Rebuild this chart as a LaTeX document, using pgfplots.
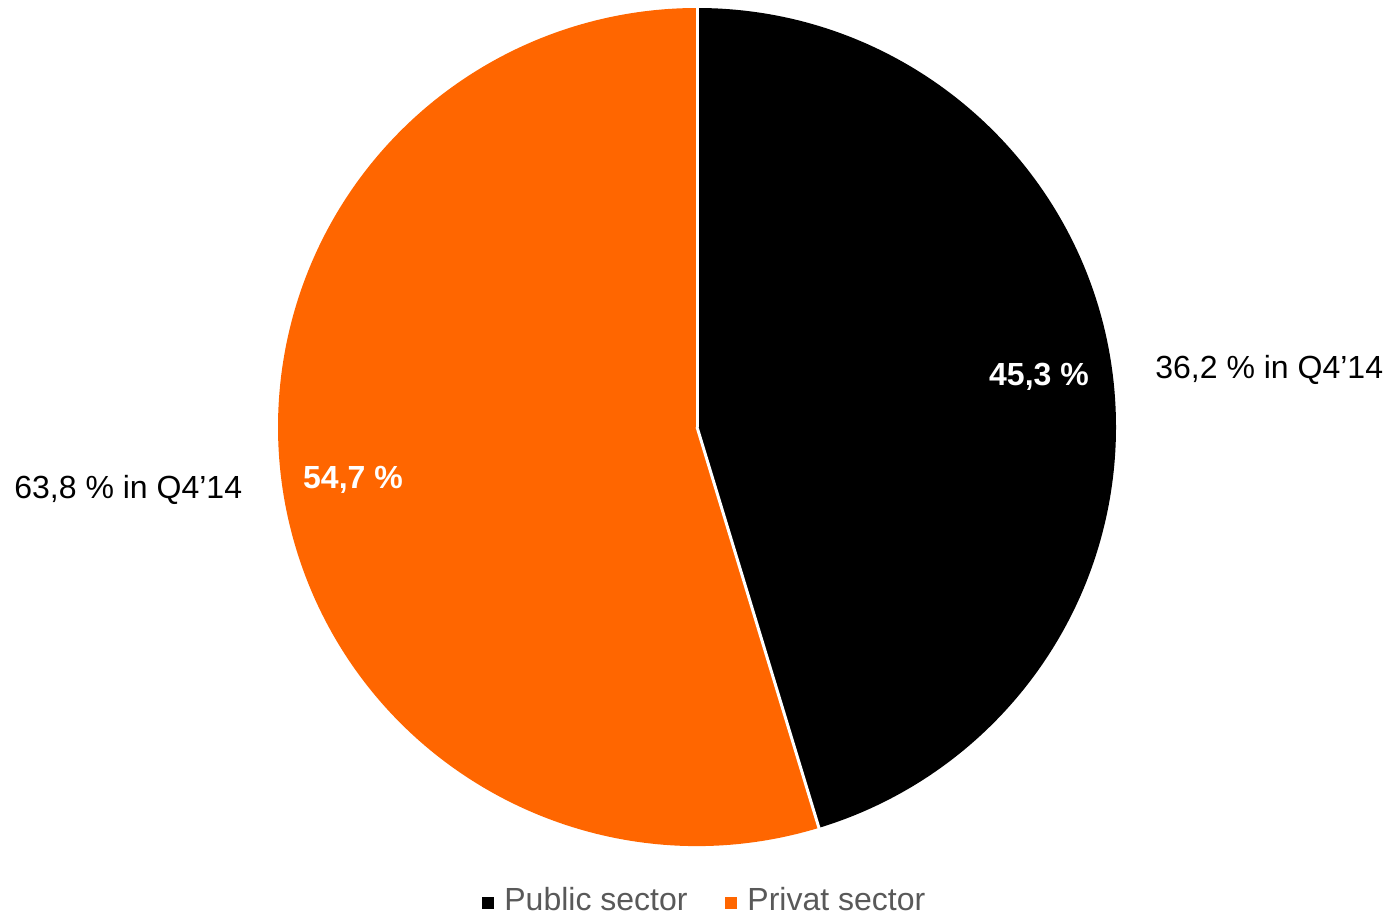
\documentclass[border=0pt]{standalone}
\usepackage{pgfplots}
\pgfplotsset{compat=1.18}
\usepackage{pgfplotstable}
\usepackage{fontspec}
\setmainfont{Liberation Sans}
\definecolor{porange}{HTML}{FF6600}
\definecolor{lgray}{HTML}{595959}
\pgfplotstableread{
label value prev
Public 45.3 36.2
Privat 54.7 63.8
}\piedata
\begin{document}
\begin{tikzpicture}
\useasboundingbox (0,0) rectangle (695.5pt,458pt);
\pgfplotstablegetelem{0}{value}\of\piedata \let\vPub\pgfplotsretval
\pgfplotstablegetelem{1}{value}\of\piedata \let\vPri\pgfplotsretval
\pgfmathsetmacro\aEnd{90-\vPub*3.6}
\pgfmathsetmacro\aEndB{\aEnd-\vPri*3.6}
\begin{axis}[
  scale only axis, width=695.5pt, height=458pt,
  xmin=0, xmax=1391, ymin=0, ymax=916,
  hide axis, clip=false,
]
\fill[black] (axis cs:697,489) -- (axis cs:697,908) arc[start angle=90, end angle=\aEnd, radius=419] -- cycle;
\fill[porange] (axis cs:697,489) -- ++(axis direction cs:{419*cos(\aEnd)},{419*sin(\aEnd)}) arc[start angle=\aEnd, end angle=\aEndB, radius=419] -- cycle;
\draw[white, line width=1.5pt] (axis cs:697,489) -- (axis cs:697,910);
\draw[white, line width=1.5pt] (axis cs:697,489) -- ++(axis direction cs:{421*cos(\aEnd)},{421*sin(\aEnd)});
\node[white, font=\fontsize{16}{19}\selectfont\bfseries] at (axis cs:1039,539) {45,3 \%};
\node[white, font=\fontsize{16}{19}\selectfont\bfseries] at (axis cs:353,436) {54,7 \%};
\node[black, font=\fontsize{16}{19}\selectfont, anchor=west, inner sep=0pt] at (axis cs:1155,546) {36,2 \% in Q4’14};
\node[black, font=\fontsize{16}{19}\selectfont, anchor=west, inner sep=0pt] at (axis cs:14,426) {63,8 \% in Q4’14};
\fill[black] (axis cs:482,7) rectangle (axis cs:494,19);
\node[lgray, font=\fontsize{16}{19}\selectfont, anchor=base west, inner sep=0pt] at (axis cs:504,6) {Public sector};
\fill[porange] (axis cs:725,7) rectangle (axis cs:737,19);
\node[lgray, font=\fontsize{16}{19}\selectfont, anchor=base west, inner sep=0pt] at (axis cs:747,6) {Privat sector};
\end{axis}
\end{tikzpicture}
\end{document}
